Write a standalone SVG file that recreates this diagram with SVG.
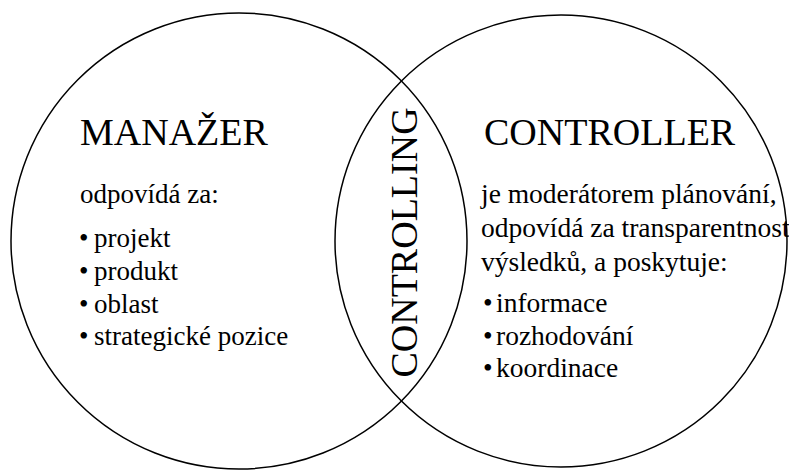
<svg xmlns="http://www.w3.org/2000/svg" width="789" height="470" viewBox="0 0 789 470" font-family="'Liberation Serif', 'Times New Roman', Tinos, 'DejaVu Serif', serif">
<style>
.c{fill:none;stroke:#000;stroke-width:1.5}
text{fill:#000}
.h{font-size:38px}
.t{font-size:27px}
.r{font-size:27.5px}
</style>
<rect width="789" height="470" fill="#fff"/>
<g id="manazer">
<circle class="c" cx="239" cy="241" r="228"/>
<text class="h" x="80" y="145">MANAŽER</text>
<text class="t" x="80" y="203">odpovídá za:</text>
<text class="t" x="79" y="247">•</text><text class="t" x="94" y="247">projekt</text>
<text class="t" x="79" y="280">•</text><text class="t" x="94" y="280">produkt</text>
<text class="t" x="79" y="313">•</text><text class="t" x="94" y="313">oblast</text>
<text class="t" x="79" y="345">•</text><text class="t" x="94" y="345">strategické pozice</text>
</g>
<g id="controller">
<circle class="c" cx="561" cy="241" r="226"/>
<text class="h" x="484" y="145">CONTROLLER</text>
<text class="r" x="481" y="203">je moderátorem plánování,</text>
<text class="r" x="481" y="237">odpovídá za transparentnost</text>
<text class="r" x="481" y="271">výsledků, a poskytuje:</text>
<text class="r" x="483" y="312">•</text><text class="r" x="496" y="312">informace</text>
<text class="r" x="483" y="345">•</text><text class="r" x="496" y="345">rozhodování</text>
<text class="r" x="483" y="377">•</text><text class="r" x="496" y="377">koordinace</text>
</g>
<g id="controlling">
<text class="h" transform="translate(417 242.5) rotate(-90)" text-anchor="middle">CONTROLLING</text>
</g>
<g id="connectors"/>
</svg>
